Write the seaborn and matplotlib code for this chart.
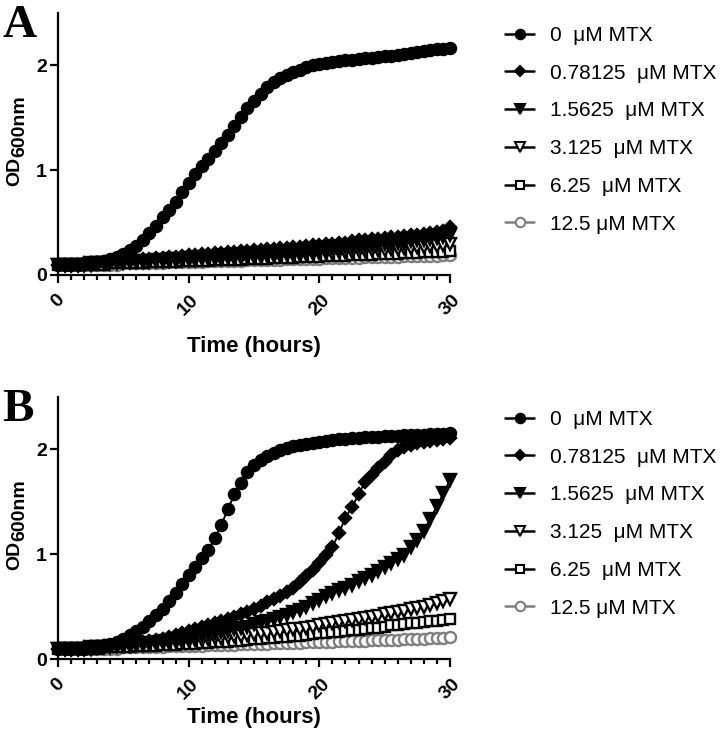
import numpy as np
import pandas as pd
import matplotlib
matplotlib.use("Agg")
import matplotlib.pyplot as plt
from matplotlib.lines import Line2D
from matplotlib.ticker import MultipleLocator
import seaborn as sns

# sampling grid: one reading every half hour, 0-30 h
hours = np.arange(0, 30.5, 0.5)

labels = ["0  μM MTX", "0.78125  μM MTX", "1.5625  μM MTX",
          "3.125  μM MTX", "6.25  μM MTX", "12.5 μM MTX"]

# Panel A
a_0 = [0.10, 0.10, 0.10, 0.10, 0.11, 0.11, 0.12, 0.13, 0.15, 0.17,
       0.20, 0.24, 0.28, 0.33, 0.40, 0.47, 0.55, 0.62, 0.70, 0.79,
       0.88, 0.96, 1.04, 1.11, 1.18, 1.26, 1.34, 1.42, 1.51, 1.59,
       1.66, 1.73, 1.79, 1.84, 1.88, 1.91, 1.94, 1.96, 1.98, 2.00,
       2.01, 2.02, 2.03, 2.04, 2.05, 2.05, 2.06, 2.07, 2.07, 2.08,
       2.09, 2.09, 2.10, 2.11, 2.12, 2.13, 2.14, 2.15, 2.16, 2.16,
       2.17]
a_078 = [0.10, 0.10, 0.10, 0.10, 0.11, 0.11, 0.11, 0.12, 0.12, 0.13,
         0.13, 0.14, 0.14, 0.15, 0.15, 0.16, 0.16, 0.17, 0.17, 0.18,
         0.19, 0.19, 0.20, 0.20, 0.21, 0.21, 0.22, 0.22, 0.23, 0.23,
         0.24, 0.24, 0.25, 0.25, 0.26, 0.26, 0.27, 0.27, 0.28, 0.29,
         0.29, 0.30, 0.30, 0.31, 0.31, 0.32, 0.33, 0.33, 0.34, 0.34,
         0.35, 0.36, 0.36, 0.37, 0.38, 0.38, 0.39, 0.40, 0.41, 0.42,
         0.46]
a_156 = [0.10, 0.10, 0.10, 0.10, 0.10, 0.11, 0.11, 0.11, 0.11, 0.12,
         0.12, 0.12, 0.13, 0.13, 0.13, 0.14, 0.14, 0.15, 0.15, 0.15,
         0.16, 0.16, 0.17, 0.17, 0.17, 0.18, 0.18, 0.19, 0.19, 0.20,
         0.20, 0.21, 0.21, 0.22, 0.22, 0.22, 0.23, 0.23, 0.24, 0.24,
         0.25, 0.25, 0.26, 0.26, 0.27, 0.27, 0.28, 0.28, 0.29, 0.29,
         0.30, 0.30, 0.31, 0.31, 0.32, 0.33, 0.33, 0.34, 0.35, 0.36,
         0.38]
a_3125 = [0.10, 0.10, 0.10, 0.10, 0.10, 0.10, 0.11, 0.11, 0.11, 0.11,
          0.11, 0.12, 0.12, 0.12, 0.12, 0.13, 0.13, 0.13, 0.13, 0.14,
          0.14, 0.14, 0.15, 0.15, 0.15, 0.15, 0.16, 0.16, 0.16, 0.17,
          0.17, 0.17, 0.18, 0.18, 0.18, 0.19, 0.19, 0.19, 0.20, 0.20,
          0.21, 0.21, 0.21, 0.22, 0.22, 0.22, 0.23, 0.23, 0.24, 0.24,
          0.24, 0.25, 0.25, 0.26, 0.26, 0.27, 0.27, 0.28, 0.28, 0.29,
          0.30]
a_625 = [0.10, 0.10, 0.10, 0.10, 0.10, 0.10, 0.10, 0.10, 0.11, 0.11,
         0.11, 0.11, 0.11, 0.11, 0.12, 0.12, 0.12, 0.12, 0.12, 0.13,
         0.13, 0.13, 0.13, 0.13, 0.14, 0.14, 0.14, 0.14, 0.14, 0.15,
         0.15, 0.15, 0.15, 0.16, 0.16, 0.16, 0.16, 0.17, 0.17, 0.17,
         0.17, 0.18, 0.18, 0.18, 0.18, 0.19, 0.19, 0.19, 0.19, 0.20,
         0.20, 0.20, 0.20, 0.21, 0.21, 0.21, 0.22, 0.22, 0.22, 0.22,
         0.23]
a_125 = [0.10, 0.10, 0.10, 0.10, 0.10, 0.10, 0.10, 0.10, 0.10, 0.10,
         0.11, 0.11, 0.11, 0.11, 0.11, 0.11, 0.11, 0.12, 0.12, 0.12,
         0.12, 0.12, 0.12, 0.13, 0.13, 0.13, 0.13, 0.13, 0.13, 0.14,
         0.14, 0.14, 0.14, 0.14, 0.14, 0.15, 0.15, 0.15, 0.15, 0.15,
         0.15, 0.16, 0.16, 0.16, 0.16, 0.16, 0.16, 0.17, 0.17, 0.17,
         0.17, 0.17, 0.17, 0.18, 0.18, 0.18, 0.18, 0.18, 0.18, 0.19,
         0.19]

# Panel B
b_0 = [0.10, 0.10, 0.10, 0.10, 0.10, 0.11, 0.11, 0.12, 0.14, 0.16,
       0.19, 0.23, 0.27, 0.31, 0.36, 0.42, 0.48, 0.55, 0.63, 0.72,
       0.80, 0.88, 0.96, 1.04, 1.15, 1.28, 1.43, 1.57, 1.68, 1.78,
       1.85, 1.90, 1.94, 1.97, 1.99, 2.01, 2.03, 2.04, 2.05, 2.06,
       2.07, 2.08, 2.09, 2.10, 2.10, 2.11, 2.11, 2.12, 2.12, 2.12,
       2.13, 2.13, 2.13, 2.14, 2.14, 2.14, 2.14, 2.15, 2.15, 2.15,
       2.16]
b_078 = [0.10, 0.10, 0.10, 0.10, 0.11, 0.11, 0.11, 0.12, 0.12, 0.13,
         0.14, 0.14, 0.15, 0.16, 0.17, 0.18, 0.19, 0.21, 0.23, 0.25,
         0.27, 0.29, 0.31, 0.32, 0.34, 0.36, 0.38, 0.40, 0.43, 0.45,
         0.48, 0.51, 0.54, 0.57, 0.60, 0.64, 0.68, 0.73, 0.79, 0.85,
         0.92, 0.99, 1.07, 1.20, 1.35, 1.45, 1.57, 1.69, 1.76, 1.82,
         1.88, 1.95, 1.99, 2.02, 2.04, 2.06, 2.07, 2.08, 2.09, 2.10,
         2.11]
b_156 = [0.10, 0.10, 0.10, 0.10, 0.10, 0.11, 0.11, 0.11, 0.12, 0.12,
         0.13, 0.13, 0.14, 0.14, 0.15, 0.16, 0.17, 0.18, 0.19, 0.20,
         0.21, 0.22, 0.23, 0.24, 0.25, 0.26, 0.27, 0.29, 0.30, 0.31,
         0.33, 0.35, 0.36, 0.38, 0.40, 0.42, 0.45, 0.47, 0.50, 0.53,
         0.56, 0.60, 0.63, 0.66, 0.68, 0.71, 0.74, 0.77, 0.80, 0.84,
         0.88, 0.92, 0.95, 0.99, 1.07, 1.14, 1.22, 1.34, 1.46, 1.58,
         1.71]
b_3125 = [0.10, 0.10, 0.10, 0.10, 0.10, 0.10, 0.11, 0.11, 0.11, 0.12,
          0.12, 0.12, 0.13, 0.13, 0.14, 0.14, 0.15, 0.15, 0.16, 0.16,
          0.17, 0.18, 0.18, 0.19, 0.20, 0.20, 0.21, 0.22, 0.22, 0.23,
          0.24, 0.25, 0.25, 0.26, 0.27, 0.28, 0.29, 0.29, 0.30, 0.31,
          0.32, 0.33, 0.34, 0.35, 0.36, 0.37, 0.38, 0.39, 0.40, 0.41,
          0.43, 0.44, 0.45, 0.46, 0.48, 0.49, 0.50, 0.52, 0.53, 0.55,
          0.57]
b_625 = [0.10, 0.10, 0.10, 0.10, 0.10, 0.10, 0.10, 0.11, 0.11, 0.11,
         0.11, 0.11, 0.12, 0.12, 0.12, 0.12, 0.13, 0.13, 0.13, 0.14,
         0.14, 0.14, 0.15, 0.15, 0.16, 0.16, 0.16, 0.17, 0.17, 0.18,
         0.19, 0.19, 0.20, 0.20, 0.21, 0.21, 0.22, 0.22, 0.23, 0.24,
         0.25, 0.25, 0.26, 0.26, 0.27, 0.28, 0.28, 0.29, 0.30, 0.30,
         0.31, 0.32, 0.32, 0.33, 0.34, 0.34, 0.35, 0.36, 0.36, 0.37,
         0.38]
b_125 = [0.10, 0.10, 0.10, 0.10, 0.10, 0.10, 0.10, 0.10, 0.10, 0.10,
         0.11, 0.11, 0.11, 0.11, 0.11, 0.11, 0.11, 0.12, 0.12, 0.12,
         0.12, 0.12, 0.12, 0.13, 0.13, 0.13, 0.13, 0.13, 0.14, 0.14,
         0.14, 0.14, 0.14, 0.15, 0.15, 0.15, 0.15, 0.15, 0.16, 0.16,
         0.16, 0.16, 0.16, 0.17, 0.17, 0.17, 0.17, 0.17, 0.18, 0.18,
         0.18, 0.18, 0.18, 0.19, 0.19, 0.19, 0.19, 0.20, 0.20, 0.20,
         0.21]

panel_a = [a_0, a_078, a_156, a_3125, a_625, a_125]
panel_b = [b_0, b_078, b_156, b_3125, b_625, b_125]

GREY = "#7f7f7f"
# marker, size, face colour, edge/line colour
styles = [
    ("o", 8.0, "black", "black"),
    ("D", 6.0, "black", "black"),
    ("v", 8.5, "black", "black"),
    ("v", 8.5, "white", "black"),
    ("s", 7.2, "white", "black"),
    ("o", 8.0, "white", GREY),
]

W, H = 720, 734


def fx(px):
    return px / W


def fy(py):
    return 1 - py / H


def to_frame(series):
    rows = []
    for lab, vals in zip(labels, series):
        rows.append(pd.DataFrame({"hours": hours, "od": vals, "conc": lab}))
    return pd.concat(rows, ignore_index=True)


def draw_panel(fig, top, series, letter, title_pad):
    # top = pixel row of the y-axis top; axes are 392 x 262 px
    ax = fig.add_axes([fx(58), fy(top + 262), fx(392), 262 / H])
    df = to_frame(series)
    n = len(labels)
    for i, lab in enumerate(labels):
        m, ms, fc, ec = styles[i]
        sub = df[df["conc"] == lab]
        sns.lineplot(data=sub, x="hours", y="od", ax=ax, estimator=None,
                     legend=False, color=ec, linewidth=1.4, marker=m,
                     markersize=ms, markerfacecolor=fc, markeredgecolor=ec,
                     markeredgewidth=1.7, clip_on=False, zorder=10 + n - i)

    ax.set_xlim(0, 30)
    ax.set_ylim(0, 2.5)
    ax.xaxis.set_major_locator(MultipleLocator(10))
    ax.xaxis.set_minor_locator(MultipleLocator(1))
    ax.set_yticks([0, 1, 2])
    sns.despine(ax=ax)
    for side in ("left", "bottom"):
        ax.spines[side].set_linewidth(1.6)
        ax.spines[side].set_color("black")
    ax.tick_params(axis="both", which="major", length=6, width=1.6,
                   labelsize=14, pad=2, colors="black")
    ax.tick_params(axis="x", which="minor", length=3.6, width=1.6,
                   colors="black")
    ax.tick_params(axis="x", which="major", pad=6)
    for t in ax.get_xticklabels():
        t.set_rotation(45)
        t.set_fontweight("bold")
    for t in ax.get_yticklabels():
        t.set_fontweight("bold")
    ax.set_xlabel("Time (hours)", fontsize=16, fontweight="bold",
                  labelpad=title_pad)
    ax.set_ylabel("")

    # OD with a full-size subscript, as in the original figure
    fig.text(fx(15), fy(top + 173), "OD", fontsize=14, fontweight="bold",
             rotation=90, rotation_mode="anchor", ha="left", va="center")
    fig.text(fx(20), fy(top + 144), "600nm", fontsize=14, fontweight="bold",
             rotation=90, rotation_mode="anchor", ha="left", va="center")

    fig.text(0.003, fy(top + 24), letter, fontsize=34, fontweight="bold",
             family="Liberation Serif", va="baseline", ha="left")

    handles = []
    for m, ms, fc, ec in styles:
        handles.append(Line2D([], [], color=ec, linewidth=1.8, marker=m,
                              markersize=ms * 0.85, markerfacecolor=fc,
                              markeredgecolor=ec, markeredgewidth=1.5))
    fig.legend(handles, labels, loc="upper left",
               bbox_to_anchor=(0.702, fy(top + 13)), frameon=False,
               fontsize=15, handlelength=1.35, handletextpad=0.8,
               labelspacing=0.9, borderpad=0, borderaxespad=0)
    return ax


def main():
    sns.set_style("ticks")
    plt.rcParams["font.family"] = ["Liberation Sans", "DejaVu Sans"]
    plt.rcParams["text.color"] = "black"
    plt.rcParams["axes.labelcolor"] = "black"

    fig = plt.figure(figsize=(7.2, 7.34), dpi=100)
    draw_panel(fig, 13, panel_a, "A", 12)
    draw_panel(fig, 397, panel_b, "B", 3)
    fig.savefig("out.png", dpi=100)
    plt.close(fig)


if __name__ == "__main__":
    main()
